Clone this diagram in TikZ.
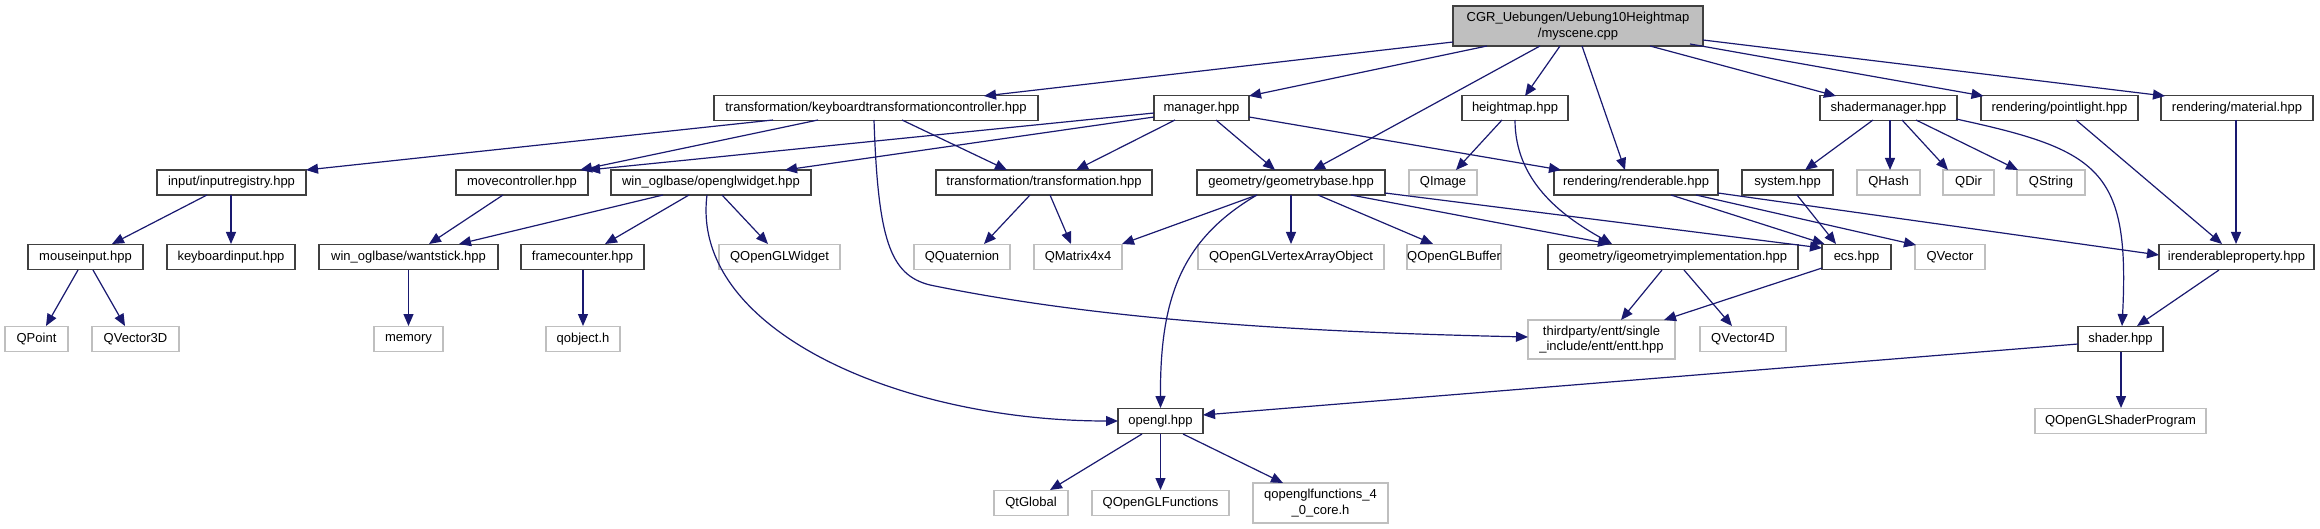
\documentclass[tikz,border=0pt]{standalone}
\usepackage{fontspec}
\setmainfont{Liberation Sans}
\usetikzlibrary{arrows.meta}
\definecolor{edgec}{HTML}{191970}
\definecolor{intb}{HTML}{404040}
\definecolor{extb}{HTML}{BFBFBF}
\definecolor{rootf}{HTML}{BFBFBF}
\newcommand\depedge[4]{\draw[dep] ([shift={#2}]#1.center) -- ([shift={#4}]#3.center);}
\begin{document}
\begin{tikzpicture}[x=1pt,y=-1pt,
  font=\fontsize{13}{15.5}\selectfont,
  box/.style={draw, fill=white, inner sep=0pt, minimum height=25pt, text=black, align=center},
  intn/.style={box, draw=intb, line width=1.5pt},
  extn/.style={box, draw=extb, line width=1.4pt},
  rootn/.style={box, draw=intb, fill=rootf, line width=1.5pt},
  dep/.style={draw=edgec, line width=1.2pt, -{Triangle[length=12pt,width=10pt]}}]
\fill[white] (0,0) rectangle (2320,529);
\useasboundingbox (0,0) rectangle (2320,529);
% row 1
\node[rootn, minimum width=250pt, minimum height=40pt] (root) at (1578,26) {CGR\_Uebungen/Uebung10Heightmap\\/myscene.cpp};
% row 2
\node[intn, minimum width=324pt] (kbd) at (876,108) {transformation/keyboardtransformationcontroller.hpp};
\node[intn, minimum width=95pt] (manager) at (1201.5,108) {manager.hpp};
\node[intn, minimum width=106pt] (heightmap) at (1515,108) {heightmap.hpp};
\node[intn, minimum width=137pt] (shadermgr) at (1888.5,108) {shadermanager.hpp};
\node[intn, minimum width=157pt] (pointlight) at (2059.5,108) {rendering/pointlight.hpp};
\node[intn, minimum width=152pt] (material) at (2237,108) {rendering/material.hpp};
% row 3
\node[intn, minimum width=149pt] (inputreg) at (231.5,182.5) {input/inputregistry.hpp};
\node[intn, minimum width=132pt] (movectrl) at (522,182.5) {movecontroller.hpp};
\node[intn, minimum width=200pt] (oglwidget) at (711,182.5) {win\_oglbase/openglwidget.hpp};
\node[intn, minimum width=216pt] (transf) at (1044,182.5) {transformation/transformation.hpp};
\node[intn, minimum width=188pt] (geombase) at (1291,182.5) {geometry/geometrybase.hpp};
\node[extn, minimum width=68pt] (qimage) at (1443,182.5) {QImage};
\node[intn, minimum width=164pt] (renderable) at (1636,182.5) {rendering/renderable.hpp};
\node[intn, minimum width=91pt] (system) at (1787.5,182.5) {system.hpp};
\node[extn, minimum width=63pt] (qhash) at (1888.5,182.5) {QHash};
\node[extn, minimum width=51pt] (qdir) at (1968.5,182.5) {QDir};
\node[extn, minimum width=68pt] (qstring) at (2051,182.5) {QString};
% row 4
\node[intn, minimum width=115pt] (mouseinput) at (85.5,257) {mouseinput.hpp};
\node[intn, minimum width=128pt] (kbdinput) at (231,257) {keyboardinput.hpp};
\node[intn, minimum width=179pt] (wantstick) at (408.5,257) {win\_oglbase/wantstick.hpp};
\node[intn, minimum width=123pt] (framecounter) at (582.5,257) {framecounter.hpp};
\node[extn, minimum width=121pt] (qoglwidget) at (779.5,257) {QOpenGLWidget};
\node[extn, minimum width=96pt] (qquat) at (962,257) {QQuaternion};
\node[extn, minimum width=88pt] (qmatrix) at (1078,257) {QMatrix4x4};
\node[extn, minimum width=186pt] (qvao) at (1291,257) {QOpenGLVertexArrayObject};
\node[extn, minimum width=90pt] (qbuffer) at (1454,257) {QOpenGLBuffer};
\node[intn, minimum width=250pt] (igeom) at (1673,257) {geometry/igeometryimplementation.hpp};
\node[intn, minimum width=69pt] (ecs) at (1856.5,257) {ecs.hpp};
\node[extn, minimum width=70pt] (qvector) at (1950,257) {QVector};
\node[intn, minimum width=155pt] (irendprop) at (2236.5,257) {irenderableproperty.hpp};
% row 5
\node[extn, minimum width=63pt] (qpoint) at (36.5,339) {QPoint};
\node[extn, minimum width=87pt] (qvector3d) at (135.5,339) {QVector3D};
\node[extn, minimum width=69pt] (memory) at (408.5,339) {memory};
\node[extn, minimum width=74pt] (qobject) at (583,339) {qobject.h};
\node[extn, minimum width=147pt, minimum height=39pt] (entt) at (1601.5,339.5) {thirdparty/entt/single\\\_include/entt/entt.hpp};
\node[extn, minimum width=86pt] (qvector4d) at (1743,339) {QVector4D};
\node[intn, minimum width=85pt] (shader) at (2120.5,339) {shader.hpp};
% row 6
\node[intn, minimum width=85pt] (opengl) at (1160.5,421) {opengl.hpp};
\node[extn, minimum width=171pt] (qshaderprog) at (2120.5,421) {QOpenGLShaderProgram};
% row 7
\node[extn, minimum width=74pt] (qtglobal) at (1031,503) {QtGlobal};
\node[extn, minimum width=137pt] (qglfunc) at (1160.5,503) {QOpenGLFunctions};
\node[extn, minimum width=135pt, minimum height=40pt] (qglfunc40) at (1320.5,503) {qopenglfunctions\_4\\\_0\_core.h};
% edges from root
\depedge{root}{(-125,16)}{kbd}{(108,-12)}
\depedge{root}{(-91,20)}{manager}{(47.5,-12)}
\depedge{root}{(-38,20)}{geombase}{(22,-12.5)}
\depedge{root}{(-18,20)}{heightmap}{(10,-12)}
\depedge{root}{(4,20)}{renderable}{(-11,-12.5)}
\depedge{root}{(72,20)}{shadermgr}{(-52.5,-12)}
\depedge{root}{(112,18)}{pointlight}{(-76,-12)}
\depedge{root}{(125,14)}{material}{(-72,-12)}
% kbd
\depedge{kbd}{(-103,12)}{inputreg}{(74.5,-12.5)}
\depedge{kbd}{(-58,12)}{movectrl}{(58,-12.5)}
\depedge{kbd}{(26,12)}{transf}{(-37,-12.5)}
\draw[dep] ([shift={(-2,12)}]kbd.center) .. controls (878,240) and (890,275) .. (930,285)
  .. controls (1100,320) and (1300,332) .. ([shift={(-73.5,-2.5)}]entt.center);
% manager
\depedge{manager}{(-47.5,5)}{movectrl}{(66,-12.5)}
\depedge{manager}{(-47.5,9)}{oglwidget}{(74,-12.5)}
\depedge{manager}{(-26.5,12)}{transf}{(32,-12.5)}
\depedge{manager}{(14.5,12)}{geombase}{(-16,-12.5)}
\depedge{manager}{(47.5,9)}{renderable}{(-75,-12.5)}
% heightmap
\depedge{heightmap}{(-13,12)}{qimage}{(13,-12.5)}
\draw[dep] ([shift={(0,12)}]heightmap.center) .. controls (1515,180) and (1560,215) .. ([shift={(-61,-13)}]igeom.center);
% geombase
\depedge{geombase}{(-34,12.5)}{qmatrix}{(44,-13)}
\draw[dep] ([shift={(-34,12.5)}]geombase.center) .. controls (1180,240) and (1160,300) .. ([shift={(0,-13)}]opengl.center);
\depedge{geombase}{(0,12.5)}{qvao}{(0,-13)}
\depedge{geombase}{(27,12.5)}{qbuffer}{(-21,-13)}
\depedge{geombase}{(60,12.5)}{igeom}{(-63,-13)}
\depedge{geombase}{(94,10.5)}{ecs}{(-34.5,-9)}
% transf
\depedge{transf}{(-14,12.5)}{qquat}{(22,-13)}
\depedge{transf}{(6,12.5)}{qmatrix}{(-7,-13)}
% renderable
\depedge{renderable}{(35,12.5)}{ecs}{(-32,-13)}
\depedge{renderable}{(60,12.5)}{qvector}{(-34,-12)}
\depedge{renderable}{(82,10.5)}{irendprop}{(-77.5,-2)}
% system
\depedge{system}{(9.5,12.5)}{ecs}{(-20.5,-13)}
% shadermanager
\depedge{shadermgr}{(-15.5,12)}{system}{(17.5,-12.5)}
\depedge{shadermgr}{(1.5,12)}{qhash}{(1.5,-12.5)}
\depedge{shadermgr}{(13.5,12)}{qdir}{(-20.5,-12.5)}
\depedge{shadermgr}{(27.5,12)}{qstring}{(-33,-12.5)}
\draw[dep] ([shift={(67.5,11)}]shadermgr.center) .. controls (2100,150) and (2130,170) .. ([shift={(1.5,-13)}]shader.center);
% pointlight, material
\depedge{pointlight}{(16.5,12)}{irendprop}{(-14.5,-13)}
\depedge{material}{(-1,12)}{irendprop}{(-0.5,-13)}
% irenderableproperty, shader
\depedge{irendprop}{(-17.5,13)}{shader}{(16.5,-13)}
\depedge{shader}{(0.5,13)}{qshaderprog}{(0.5,-13)}
\depedge{shader}{(-42.5,5)}{opengl}{(42.5,-6)}
% inputregistry, mouseinput
\depedge{inputreg}{(-24.5,12.5)}{mouseinput}{(26.5,-13)}
\depedge{inputreg}{(-0.5,12.5)}{kbdinput}{(0,-13)}
\depedge{mouseinput}{(-7.5,13)}{qpoint}{(9.5,-13)}
\depedge{mouseinput}{(7.5,13)}{qvector3d}{(-10.5,-13)}
% movecontroller, openglwidget
\depedge{movectrl}{(-19,12.5)}{wantstick}{(20.5,-13)}
\depedge{oglwidget}{(-48,12.5)}{wantstick}{(50.5,-13)}
\depedge{oglwidget}{(-22,12.5)}{framecounter}{(22.5,-13)}
\depedge{oglwidget}{(11,12.5)}{qoglwidget}{(-11.5,-13)}
\draw[dep] ([shift={(-4,12.5)}]oglwidget.center) .. controls (690,330) and (900,421) .. ([shift={(-42.5,0)}]opengl.center);
\depedge{wantstick}{(0,13)}{memory}{(0,-13)}
\depedge{framecounter}{(0.5,13)}{qobject}{(0,-13)}
% igeom, ecs
\depedge{igeom}{(-11,13)}{entt}{(19.5,-19.5)}
\depedge{igeom}{(11,13)}{qvector4d}{(-11,-13)}
\depedge{ecs}{(-34.5,11)}{entt}{(62.5,-19.5)}
% opengl
\depedge{opengl}{(-18.5,13)}{qtglobal}{(19,-13)}
\depedge{opengl}{(0,13)}{qglfunc}{(0,-13)}
\depedge{opengl}{(22.5,13)}{qglfunc40}{(-37.5,-20)}
\end{tikzpicture}
\end{document}
